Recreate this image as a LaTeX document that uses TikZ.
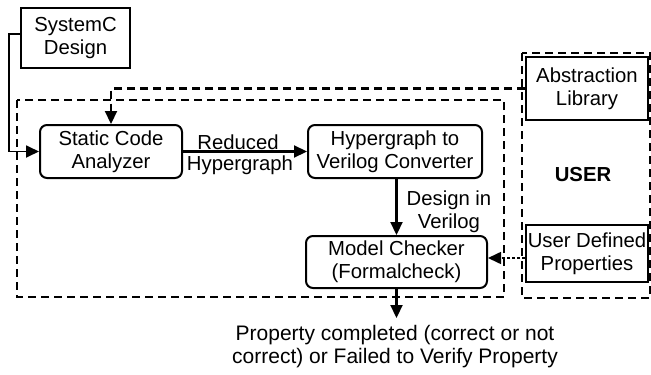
\documentclass[tikz,border=0pt]{standalone}
\usepackage{fontspec}
\setmainfont{Liberation Sans}
\usetikzlibrary{arrows.meta}
\begin{document}
\begin{tikzpicture}[x=1pt,y=-1pt,
  every node/.style={font=\fontsize{20.3}{23}\selectfont, align=center, inner sep=0pt},
  box/.style={draw, line width=2pt},
  roundbox/.style={draw, line width=2pt, rounded corners=7pt},
  dashbox/.style={line width=2.2pt, dash pattern=on 8pt off 5pt},
  tip/.style={-{Triangle[length=13pt,width=12pt]}},
  arr/.style={line width=2.2pt, tip},
  dasharr/.style={line width=2.2pt, dash pattern=on 8pt off 5pt, tip}]
\useasboundingbox (0,0) rectangle (651,375);
\fill[white] (0,0) rectangle (651,375);

% enclosing dashed regions
\draw[dashbox] (17,100) rectangle (504,297);
\draw[dashbox] (522,53) rectangle (650,298);

% blocks
\node[box, minimum width=109pt, minimum height=60pt] (sysc) at (75.5,38) {SystemC\\Design};
\node[roundbox, minimum width=142pt, minimum height=53pt] (sca) at (111,151.5) {Static Code\\Analyzer};
\node[roundbox, minimum width=174pt, minimum height=53pt] (hvc) at (395,151.5) {Hypergraph to\\Verilog Converter};
\node[roundbox, minimum width=181pt, minimum height=52pt] (mc) at (396.5,262) {Model Checker\\(Formalcheck)};
\node[box, fill=white, minimum width=122pt, minimum height=63pt] (absl) at (587,88.5) {Abstraction\\Library};
\node[box, fill=white, minimum width=122pt, minimum height=57pt] (udp) at (587,253.5) {User Defined\\Properties};
\node[font=\fontsize{20.3}{23}\selectfont\bfseries] (user) at (583,175) {USER};
\node[font=\fontsize{21}{23}\selectfont] (res) at (395,347) {Property completed (correct or not\\correct) or Failed to Verify Property};
\coordinate (resin) at (396.5,318);

% connectors
\draw[line width=1.8pt, tip] ([yshift=4pt]sysc.west) -- ++(-11,0) |- (sca.west);
\draw[dasharr] (absl.west) -| (sca.north);
\draw[arr] (sca.east) -- (hvc.west);
\node at (238,142) {Reduced};
\node at (240,165) {Hypergraph};
\draw[arr] (hvc.south -| mc.north) -- (mc.north);
\node at (449,212) {Design in\\Verilog};
\draw[line width=1.6pt, dash pattern=on 3pt off 2pt, tip] (udp.west |- 0,258) -- (mc.east |- 0,258);
\draw[arr] (mc.south) -- (resin);
\end{tikzpicture}
\end{document}
